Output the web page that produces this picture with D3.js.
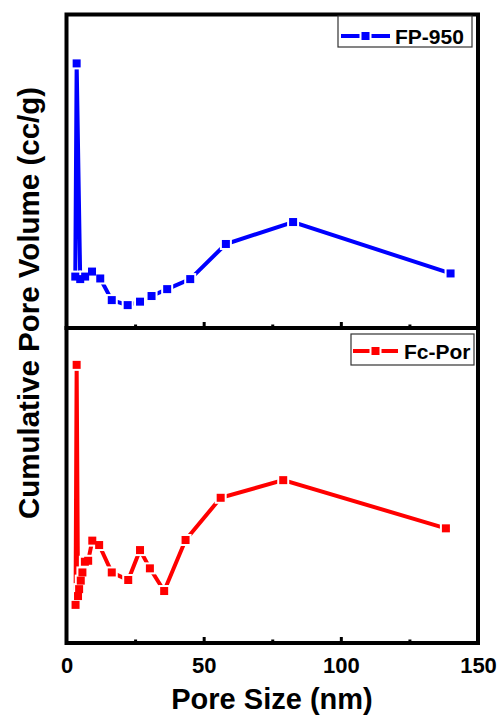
<!DOCTYPE html>
<html lang="en">
<head>
<meta charset="UTF-8">
<title>Cumulative Pore Volume</title>
<script src="https://d3js.org/d3.v7.min.js"></script>
<style>
  body { margin: 0; background: #fff; }
  svg text { font-family: 'Liberation Sans', Arial, sans-serif; font-weight: bold; fill: #000; }
</style>
</head>
<body>
<svg id="chart" width="504" height="718"></svg>
<script>
// data (y in arbitrary units, no y ticks in the original)
const poreSizeFP = [3.2, 3.7, 5.0, 6.8, 9.3, 12.3, 16.5, 22.3, 26.8, 31.0, 36.7, 45.1, 58.1, 82.6, 140.0];
const volumeFP   = [0.164, 0.844, 0.156, 0.164, 0.180, 0.158, 0.089, 0.073, 0.084, 0.102, 0.124, 0.156, 0.268, 0.338, 0.174];

const poreSizeFc = [3.3, 3.7, 4.2, 4.6, 5.2, 5.8, 6.7, 7.9, 9.4, 11.9, 16.5, 22.5, 26.8, 30.4, 35.6, 43.4, 56.2, 79.0, 138.3];
const volumeFc   = [0.121, 0.883, 0.149, 0.171, 0.198, 0.224, 0.258, 0.261, 0.325, 0.311, 0.224, 0.200, 0.295, 0.237, 0.165, 0.327, 0.461, 0.517, 0.364];

const majorTicks = [0, 50, 100, 150];
const minorTicks = [25, 75, 125];

const svg = d3.select('#chart');

const x = d3.scaleLinear().domain([0, 150]).range([66.5, 478]);

const panels = [
  { name: 'FP-950', color: '#0000ff', xs: poreSizeFP, ys: volumeFP, top: 14.5, bottom: 328,
    legend: { x0: 338, y0: 16, x1: 472, y1: 47, lx0: 341, lx1: 390, ly: 36, tx: 395, ty: 43.5 } },
  { name: 'Fc-Por', color: '#ff0000', xs: poreSizeFc, ys: volumeFc, top: 328, bottom: 643,
    legend: { x0: 351, y0: 334, x1: 474, y1: 365, lx0: 353, lx1: 398, ly: 351, tx: 404, ty: 358.5 } }
];

const mk = 8;     // marker size
const gap = 2;    // white gap between line and marker

panels.forEach(function(p, i) {
  const y = d3.scaleLinear().domain([0, 1]).range([p.bottom, p.top]);
  const g = svg.append('g');
  const data = p.xs.map(function(d, k) { return { x: d, y: p.ys[k] }; });

  const line = d3.line().x(function(d) { return x(d.x); }).y(function(d) { return y(d.y); });
  g.append('path')
    .datum(data)
    .attr('d', line)
    .attr('fill', 'none')
    .attr('stroke', p.color)
    .attr('stroke-width', 4);

  // halos first, then the filled squares, so close points merge into one blob
  g.selectAll('rect.halo')
    .data(data)
    .enter().append('rect')
    .attr('class', 'halo')
    .attr('x', function(d) { return x(d.x) - mk / 2 - gap; })
    .attr('y', function(d) { return y(d.y) - mk / 2 - gap; })
    .attr('width', mk + 2 * gap)
    .attr('height', mk + 2 * gap)
    .attr('fill', '#fff');
  g.selectAll('rect.pt')
    .data(data)
    .enter().append('rect')
    .attr('class', 'pt')
    .attr('x', function(d) { return x(d.x) - mk / 2; })
    .attr('y', function(d) { return y(d.y) - mk / 2; })
    .attr('width', mk)
    .attr('height', mk)
    .attr('fill', p.color);

  // inward ticks on the bottom edge
  const axis = d3.axisTop(x).tickValues(majorTicks.slice(1, -1)).tickSize(6).tickFormat('');
  g.append('g')
    .attr('transform', 'translate(0,' + p.bottom + ')')
    .call(axis)
    .call(function(s) { s.select('.domain').remove(); s.selectAll('line').attr('stroke-width', 3); });
  const minor = d3.axisTop(x).tickValues(minorTicks).tickSize(3.5).tickFormat('');
  g.append('g')
    .attr('transform', 'translate(0,' + p.bottom + ')')
    .call(minor)
    .call(function(s) { s.select('.domain').remove(); s.selectAll('line').attr('stroke-width', 3); });

  // frame
  g.append('rect')
    .attr('x', x(0)).attr('y', p.top)
    .attr('width', x(150) - x(0)).attr('height', p.bottom - p.top)
    .attr('fill', 'none').attr('stroke', '#000').attr('stroke-width', 4);

  // legend
  const L = p.legend;
  const lg = svg.append('g');
  lg.append('rect')
    .attr('x', L.x0).attr('y', L.y0).attr('width', L.x1 - L.x0).attr('height', L.y1 - L.y0)
    .attr('fill', '#fff').attr('stroke', '#333').attr('stroke-width', 1.2);
  lg.append('line')
    .attr('x1', L.lx0).attr('x2', L.lx1).attr('y1', L.ly).attr('y2', L.ly)
    .attr('stroke', p.color).attr('stroke-width', 4);
  const cx = (L.lx0 + L.lx1) / 2;
  lg.append('rect')
    .attr('x', cx - mk / 2 - gap).attr('y', L.ly - mk / 2 - gap)
    .attr('width', mk + 2 * gap).attr('height', mk + 2 * gap)
    .attr('fill', '#fff');
  lg.append('rect')
    .attr('x', cx - mk / 2).attr('y', L.ly - mk / 2)
    .attr('width', mk).attr('height', mk)
    .attr('fill', p.color);
  lg.append('text')
    .attr('x', L.tx).attr('y', L.ty)
    .style('font-size', '21px')
    .text(p.name);
});

// x tick labels on the bottom panel
const xAxis = d3.axisBottom(x).tickValues(majorTicks).tickSize(0).tickPadding(0);
svg.append('g')
  .attr('transform', 'translate(0,643)')
  .call(xAxis)
  .call(function(s) {
    s.select('.domain').remove();
    s.selectAll('text')
      .attr('dy', null)
      .attr('y', 30)
      .style('font-size', '22px')
      .style('font-family', "'Liberation Sans', Arial, sans-serif")
      .style('font-weight', 'bold');
  });

svg.append('text')
  .attr('x', 272).attr('y', 709)
  .attr('text-anchor', 'middle')
  .style('font-size', '29px')
  .text('Pore Size (nm)');

svg.append('text')
  .attr('transform', 'translate(39,303) rotate(-90)')
  .attr('text-anchor', 'middle')
  .style('font-size', '29.5px')
  .text('Cumulative Pore Volume (cc/g)');
</script>
</body>
</html>
